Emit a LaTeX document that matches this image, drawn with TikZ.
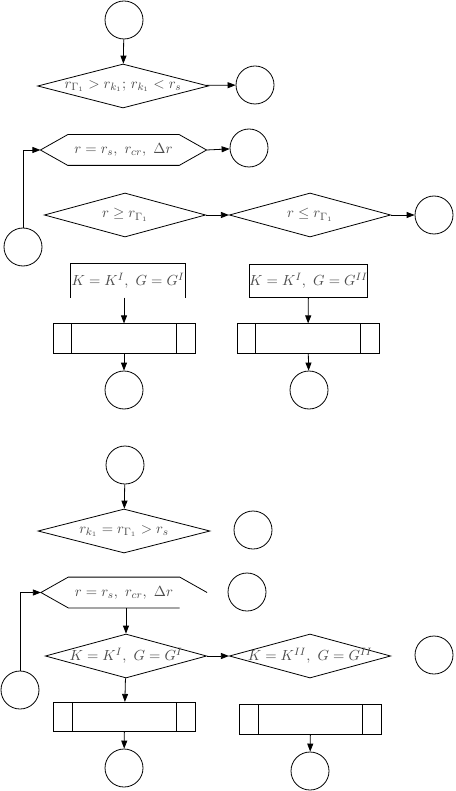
\documentclass[tikz,border=0pt]{standalone}
\usepackage{amsmath,amssymb}
\usepackage{tikz}
\usetikzlibrary{arrows.meta,calc,shapes.geometric}

\begin{document}
\begin{tikzpicture}[
  x=0.75pt, y=-0.75pt,
  font=\fontsize{11}{13}\selectfont,
  every node/.style={text=black!70},
  every path/.style={line width=0.6pt},
  circ/.style={draw=black, circle, minimum size=28.5pt, inner sep=0pt},
  dec/.style={draw=black, diamond, aspect=3.8, inner sep=0pt, minimum width=121pt, minimum height=33pt,
    label={center:#1}},
  hexbox/.style={inner sep=0pt, minimum width=124pt, minimum height=22.5pt},
  blk/.style={inner sep=0pt, minimum width=87pt, minimum height=25pt},
  proc/.style={draw=black, inner sep=0pt, minimum width=106.5pt, minimum height=22pt,
    path picture={
      \draw[black] ([xshift=14pt]path picture bounding box.north west) -- ([xshift=14pt]path picture bounding box.south west);
      \draw[black] ([xshift=-14pt]path picture bounding box.north east) -- ([xshift=-14pt]path picture bounding box.south east);}},
  arrow/.style={-{Triangle[length=6pt,width=4.5pt]}, draw=black}
]
\useasboundingbox (0,0) rectangle (455,791);

% first chart
\node[circ] (c1) at (124,20) {};
\node[dec={$r_{\Gamma_1} > r_{k_1};\, r_{k_1} < r_s$}, minimum width=128pt] (d1) at (123,86) {};
\node[circ] (c2) at (255,85) {};
\node[hexbox] (h1) at (123.5,150) {$r = r_s,\ r_{cr},\ \Delta r$};
\draw[black] (h1.east) -- ([xshift=-20.5pt]h1.north east) -- ([xshift=20.5pt]h1.north west) -- (h1.west)
  -- ([xshift=20.5pt]h1.south west) -- ([xshift=-20.5pt]h1.south east) -- cycle;
\node[circ] (c3) at (249,148) {};
\node[circ] (cl1) at (23,247) {};
\node[dec={$r \geq r_{\Gamma_1}$}] (d2) at (125,215) {};
\node[dec={$r \leq r_{\Gamma_1}$}] (d3) at (310,215) {};
\node[circ] (c4) at (434,215) {};
\node[blk, minimum width=85.5pt] (b1) at (128,280.5) {$K = K^{I},\ G = G^{I}$};
\draw[black] (b1.south west) -- (b1.north west) -- (b1.north east) -- (b1.south east);
\node[blk, draw=black] (b2) at (308.5,281) {$K = K^{I},\ G = G^{II}$};
\node[proc] (p1) at (124,338.5) {};
\node[proc] (p2) at (308,338.5) {};
\node[circ] (c5) at (124,390) {};
\node[circ] (c6) at (309,390) {};

\draw[arrow] (c1) -- (d1);
\draw[arrow] (d1) -- (c2);
\draw[arrow] (h1.east) -- (c3);
\draw[arrow] (cl1.north) |- (h1.west);
\draw[arrow] (d2) -- (d3);
\draw[arrow] (d3) -- (c4);
\draw[arrow] (b1.south -| p1.north) -- (p1.north);
\draw[arrow] (b2) -- (p2);
\draw[arrow] (p1) -- (c5);
\draw[arrow] (p2) -- (c6);

% second chart
\node[circ] (c7) at (125,465) {};
\node[dec={$r_{k_1} = r_{\Gamma_1} > r_s$}, minimum width=129pt] (d4) at (124,531) {};
\node[circ] (c8) at (253,530) {};
\node[hexbox] (h2) at (124,592.5) {$r = r_s,\ r_{cr},\ \Delta r$};
\draw[black] (h2.east) -- ([xshift=-20.5pt]h2.north east) -- ([xshift=20.5pt]h2.north west) -- (h2.west)
  -- ([xshift=20.5pt]h2.south west) -- ([xshift=-20.5pt]h2.south east);
\node[circ] (c9) at (247,592) {};
\node[circ] (cl2) at (20,690) {};
\node[dec={$K = K^{I},\ G = G^{I}$}] (d5) at (126,656) {};
\node[dec={$K = K^{II},\ G = G^{II}$}] (d6) at (310,656) {};
\node[circ] (c11) at (434,655) {};
\node[proc] (p3) at (124.5,717) {};
\node[proc] (p4) at (310.5,719.5) {};
\draw[black, thick] (p4.north west) -- (p4.north east);
\node[circ] (c12) at (124,768) {};
\node[circ] (c13) at (310,771) {};

\draw[arrow] (c7) -- (d4);
\draw[arrow] (cl2.north) |- (h2.west);
\draw[arrow] (h2.south -| d5.north) -- (d5.north);
\draw[arrow] (d5) -- (d6);
\draw[arrow] (d5) -- (p3);
\draw[arrow] (p3) -- (c12);
\draw[arrow] (p4) -- (c13);
\end{tikzpicture}
\end{document}
